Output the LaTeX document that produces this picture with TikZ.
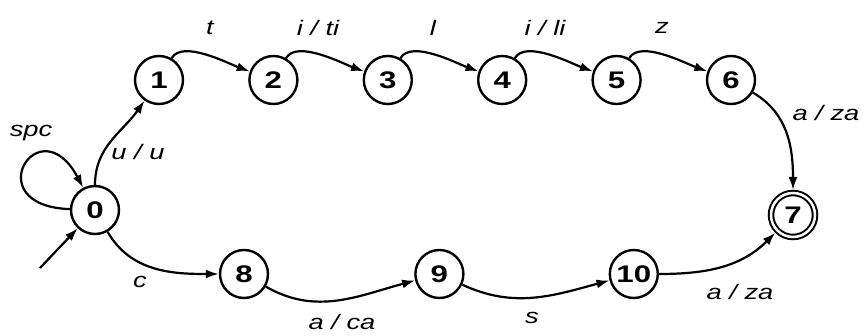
\documentclass[tikz,border=0pt]{standalone}
\usepackage{fontspec}
\setmainfont{Liberation Sans}[FakeStretch=1.3]
\usetikzlibrary{arrows.meta,positioning}

\begin{document}
\begin{tikzpicture}[
  x=1pt,y=-1pt,
  node distance=64pt,
  st/.style={draw,circle,line width=2.4pt,minimum size=48pt,inner sep=0pt,font=\fontsize{24}{24}\selectfont\bfseries},
  final/.style={st,minimum size=44pt,line width=2pt,double,double distance=2.5pt,outer sep=3pt},
  arrow/.style={-{Latex[length=13pt,width=9pt]},line width=2.2pt},
  lbl/.style={font=\fontsize{21}{21}\selectfont\itshape}
]
\useasboundingbox (0,0) rectangle (866,336);
\node[st] (n0) at (95,210) {0};
\node[st] (n1) at (159,80) {1};
\node[st,right=of n1] (n2) {2};
\node[st,right=of n2] (n3) {3};
\node[st,right=of n3] (n4) {4};
\node[st,right=of n4] (n5) {5};
\node[st,right=of n5] (n6) {6};
\node[final] (n7) at (793,215) {7};
\node[st] (n8) at (244,274) {8};
\node[st,right=145pt of n8] (n9) {9};
\node[st,right=144pt of n9] (n10) {10};
\coordinate (start) at (40,268);

\node[lbl] (lspc) at (31,133) {spc};
\node[lbl] (luu) at (138,152) {u / u};
\node[lbl] (lt) at (210,28) {t};
\node[lbl] (lti) at (318,28) {i / ti};
\node[lbl] (ll) at (433,28) {l};
\node[lbl] (lli) at (545,28) {i / li};
\node[lbl] (lz) at (662,28) {z};
\node[lbl] (lza) at (826,113) {a / za};
\node[lbl] (lc) at (140,282) {c};
\node[lbl] (lca) at (342,322) {a / ca};
\node[lbl] (ls) at (532,318) {s};
\node[lbl] (lzb) at (740,292) {a / za};

\draw[arrow] (start) -- (n0);
\draw[arrow] (n0) to[out=178,in=118,looseness=9.5] (n0);
\draw[arrow] (n0) to[out=90,in=235] (n1);
\draw[arrow] (n1) to[out=60,in=160,looseness=0.7] (n2);
\draw[arrow] (n2) to[out=60,in=160,looseness=0.7] (n3);
\draw[arrow] (n3) to[out=60,in=160,looseness=0.7] (n4);
\draw[arrow] (n4) to[out=60,in=160,looseness=0.7] (n5);
\draw[arrow] (n5) to[out=60,in=160,looseness=0.7] (n6);
\draw[arrow] (n6) to[out=-30,in=90] (n7);
\draw[arrow] (n0) to[out=-60,in=180] (n8);
\draw[arrow] (n8) to[out=-30,in=195] (n9);
\draw[arrow] (n9) to[out=-25,in=195] (n10);
\draw[arrow] (n10) to[out=0,in=225] (n7);
\end{tikzpicture}
\end{document}
